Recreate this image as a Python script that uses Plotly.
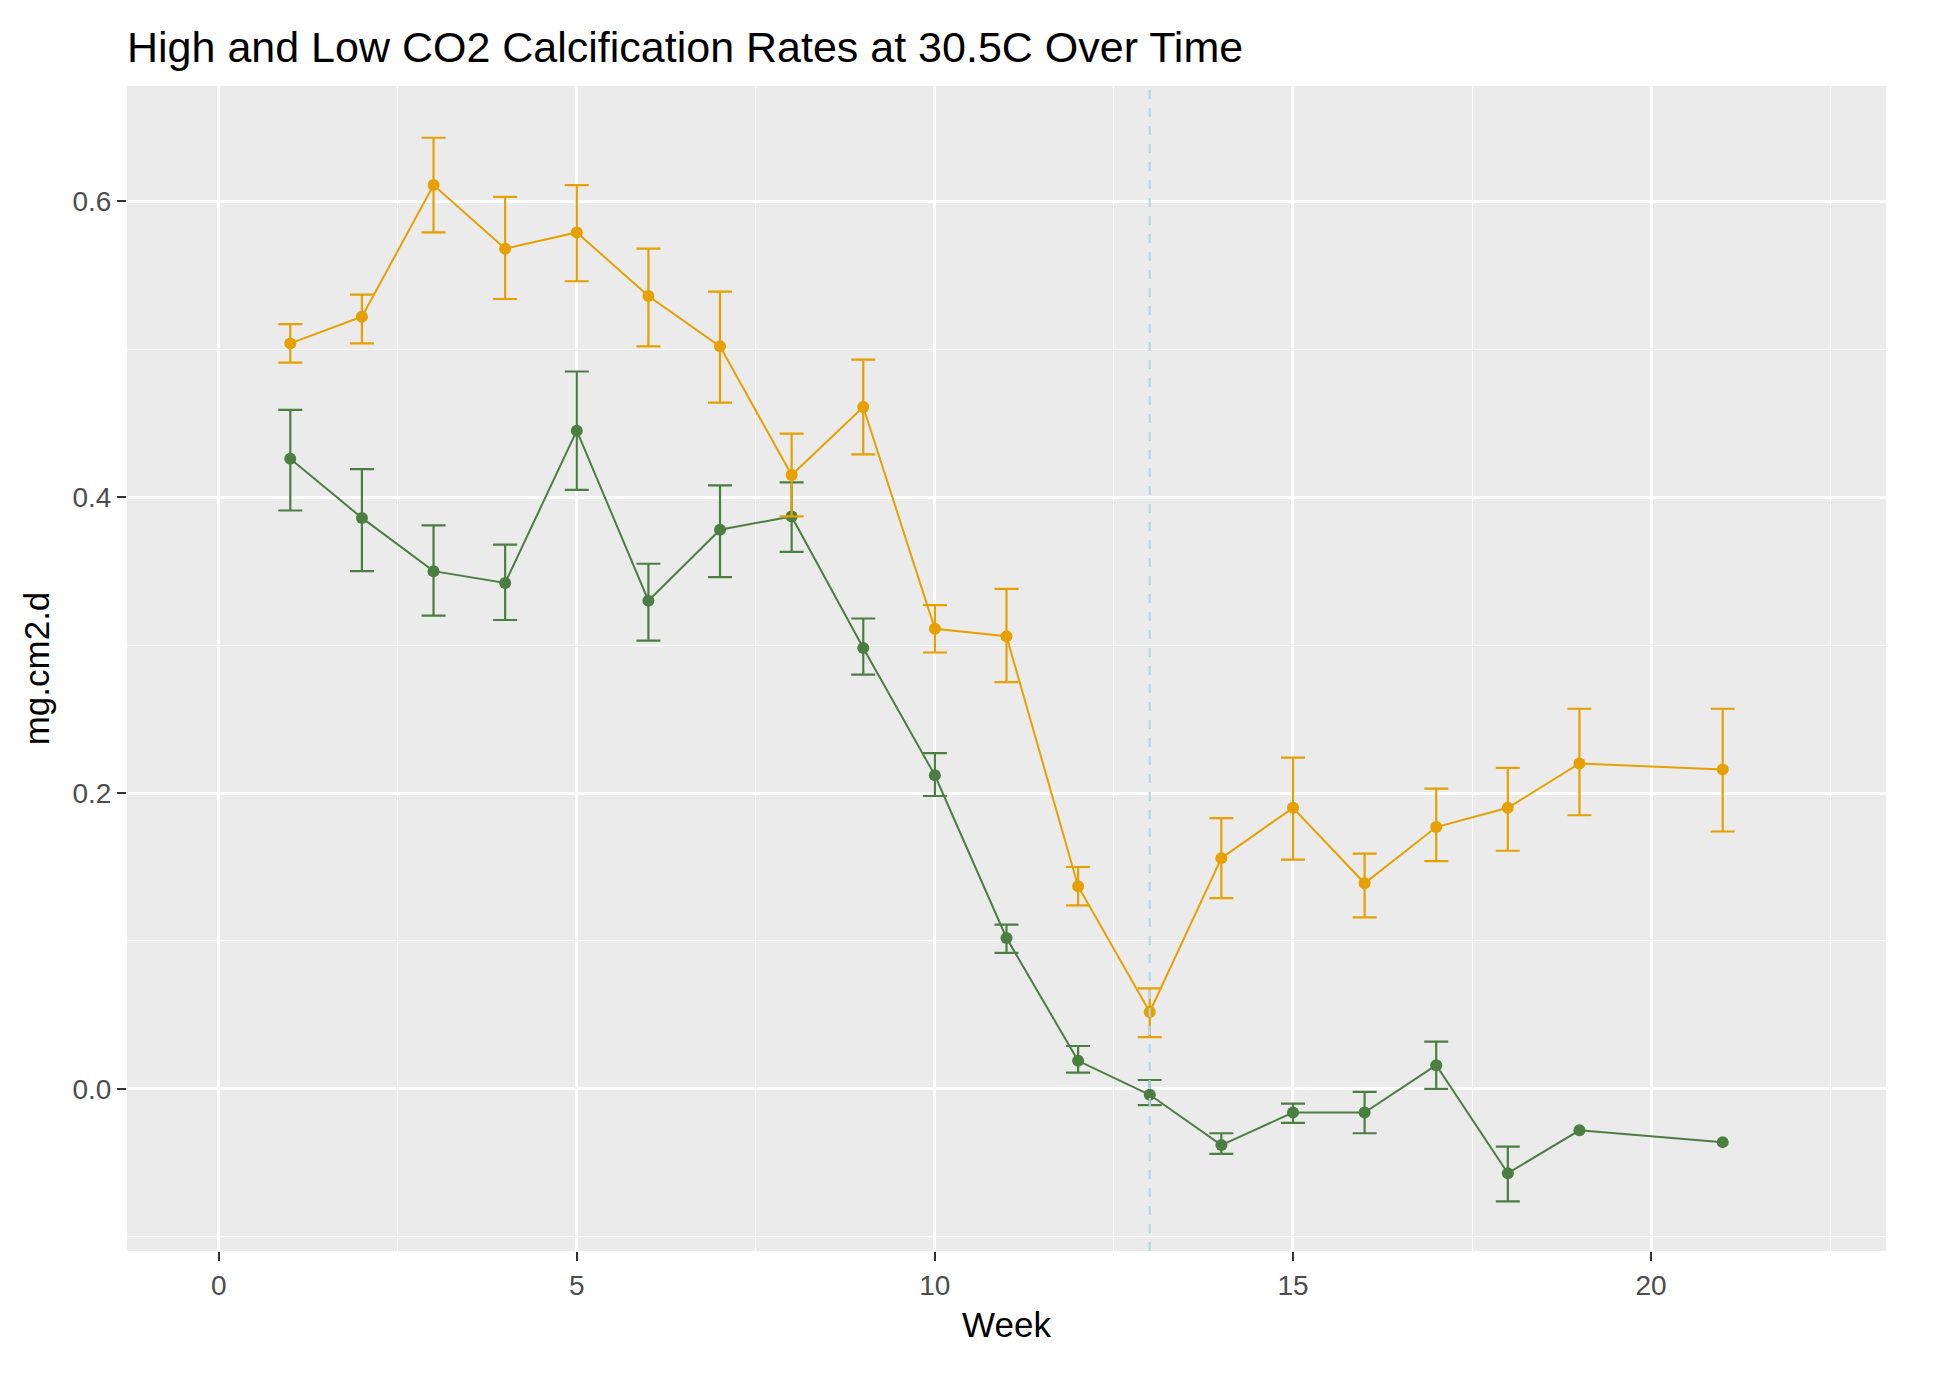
import plotly.graph_objects as go

weeks = [1, 2, 3, 4, 5, 6, 7, 8, 9, 10, 11, 12, 13, 14, 15, 16, 17, 18, 19, 21]

high_mean = [0.504, 0.522, 0.611, 0.568, 0.579, 0.536, 0.502, 0.415, 0.461, 0.311,
             0.306, 0.137, 0.052, 0.156, 0.190, 0.139, 0.177, 0.190, 0.220, 0.216]
high_upper = [0.517, 0.537, 0.643, 0.603, 0.611, 0.568, 0.539, 0.443, 0.493, 0.327,
              0.338, 0.150, 0.068, 0.183, 0.224, 0.159, 0.203, 0.217, 0.257, 0.257]
high_lower = [0.491, 0.504, 0.579, 0.534, 0.546, 0.502, 0.464, 0.387, 0.429, 0.295,
              0.275, 0.124, 0.035, 0.129, 0.155, 0.116, 0.154, 0.161, 0.185, 0.174]

low_mean = [0.426, 0.386, 0.350, 0.342, 0.445, 0.330, 0.378, 0.387, 0.298, 0.212,
            0.102, 0.019, -0.004, -0.038, -0.016, -0.016, 0.016, -0.057, -0.028, -0.036]
low_upper = [0.459, 0.419, 0.381, 0.368, 0.485, 0.355, 0.408, 0.410, 0.318, 0.227,
             0.111, 0.029, 0.006, -0.030, -0.010, -0.002, 0.032, -0.039, None, None]
low_lower = [0.391, 0.350, 0.320, 0.317, 0.405, 0.303, 0.346, 0.363, 0.280, 0.198,
             0.092, 0.011, -0.011, -0.044, -0.023, -0.030, 0.000, -0.076, None, None]

x_ticks = [0, 5, 10, 15, 20]
y_ticks = [0.0, 0.2, 0.4, 0.6]
event_week = 13

title_text = "High and Low CO2 Calcification Rates at 30.5C Over Time"
x_title = "Week"
y_title = "mg.cm2.d"

ORANGE = "#E6A000"
GREEN = "#4B7F41"
FONT = "Liberation Sans, Arial, sans-serif"

fig = go.Figure()

for name, mean, up, lo, col in [
    ("Low CO2", low_mean, low_upper, low_lower, GREEN),
    ("High CO2", high_mean, high_upper, high_lower, ORANGE),
]:
    # error bars only where an interval exists
    idx = [i for i in range(len(weeks)) if up[i] is not None and lo[i] is not None]
    fig.add_trace(go.Scatter(
        x=[weeks[i] for i in idx], y=[mean[i] for i in idx],
        mode="markers", marker=dict(size=0.1, opacity=0, color=col),
        error_y=dict(type="data", symmetric=False,
                     array=[up[i] - mean[i] for i in idx],
                     arrayminus=[mean[i] - lo[i] for i in idx],
                     color=col, thickness=2.2, width=12),
        showlegend=False, hoverinfo="skip",
    ))
    fig.add_trace(go.Scatter(
        x=weeks, y=mean, name=name, mode="lines+markers",
        line=dict(color=col, width=2),
        marker=dict(color=col, size=12),
        showlegend=False,
    ))

fig.add_vline(x=event_week, line=dict(color="#ADD8E6", width=2, dash="dash"))

fig.update_layout(
    width=1937, height=1383,
    margin=dict(l=127, r=51, t=86, b=132),
    paper_bgcolor="white",
    plot_bgcolor="#EBEBEB",
    font=dict(family=FONT, size=28, color="#4D4D4D"),
    title=dict(text=title_text, x=0, xref="paper", xanchor="left",
               y=1 - 47 / 1383, yref="container", yanchor="middle",
               font=dict(family=FONT, size=43, color="black")),
)

fig.update_xaxes(
    range=[-1.28, 23.28], tickvals=x_ticks, ticktext=[str(v) for v in x_ticks],
    showgrid=True, gridcolor="white", gridwidth=2.6,
    minor=dict(dtick=2.5, tick0=0, showgrid=True, gridcolor="white", gridwidth=1.3, ticks=""),
    zeroline=False, showline=False,
    ticks="outside", ticklen=9, tickwidth=2, tickcolor="#333333",
    tickfont=dict(family=FONT, size=28, color="#4D4D4D"),
    title=dict(text=x_title, font=dict(family=FONT, size=35, color="black"), standoff=12),
)

fig.update_yaxes(
    range=[-0.1096, 0.678], tickvals=y_ticks, ticktext=[f"{v:.1f}" for v in y_ticks],
    showgrid=True, gridcolor="white", gridwidth=2.6,
    minor=dict(dtick=0.1, tick0=0, showgrid=True, gridcolor="white", gridwidth=1.3, ticks=""),
    zeroline=False, showline=False,
    ticks="outside", ticklen=9, tickwidth=2, tickcolor="#333333",
    tickfont=dict(family=FONT, size=28, color="#4D4D4D"),
    title=dict(text=y_title, font=dict(family=FONT, size=35, color="black"), standoff=12),
)

fig.write_html("out.html")
